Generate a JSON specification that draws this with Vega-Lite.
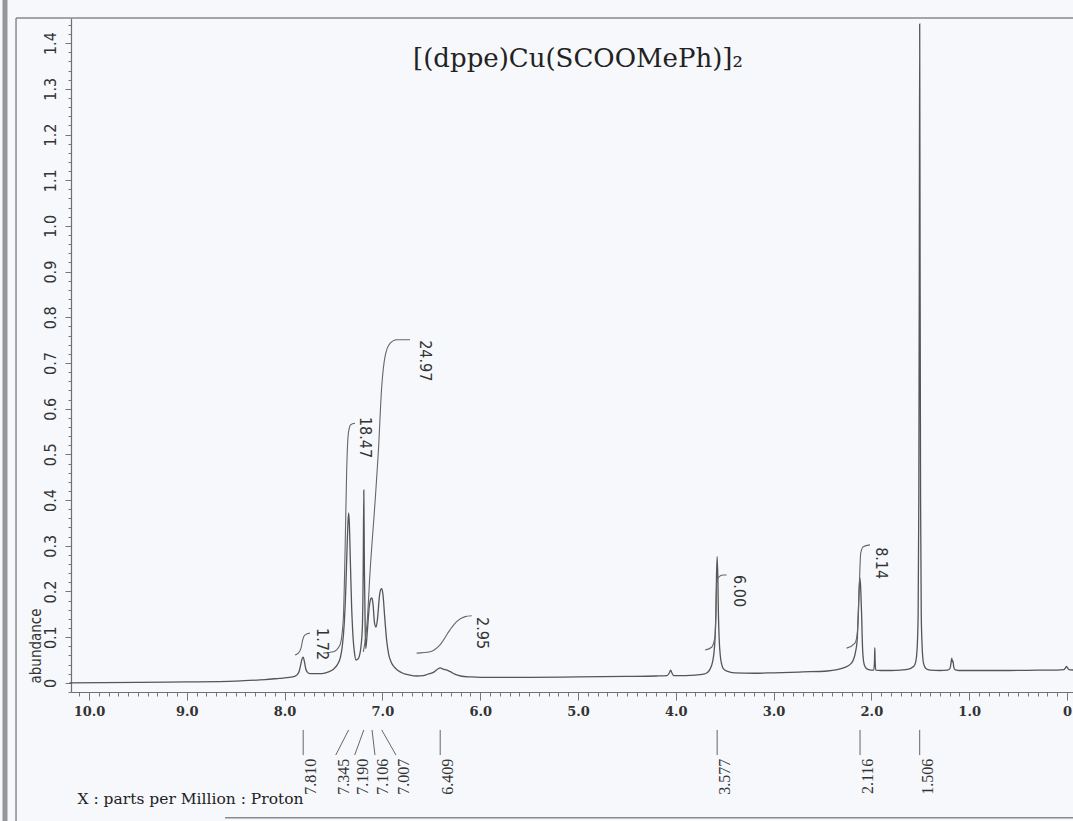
{
  "$schema": "https://vega.github.io/schema/vega-lite/v6.json",
  "autosize": {"type": "none"},
  "width": 1004,
  "height": 674,
  "padding": {"left": 71, "top": 18, "right": 0, "bottom": 129},
  "background": "#f6f8fb",
  "config": {"view": {"stroke": null}},
  "datasets": {
    "spectrum": [
      {"ppm": 10.2, "abundance": 0.0}, {"ppm": 9.5, "abundance": 0.001}, {"ppm": 9.0, "abundance": 0.002},
      {"ppm": 8.5, "abundance": 0.004}, {"ppm": 8.2, "abundance": 0.007}, {"ppm": 8.05, "abundance": 0.01},
      {"ppm": 7.95, "abundance": 0.012}, {"ppm": 7.9, "abundance": 0.014}, {"ppm": 7.87, "abundance": 0.018},
      {"ppm": 7.85, "abundance": 0.026}, {"ppm": 7.835, "abundance": 0.04}, {"ppm": 7.822, "abundance": 0.052},
      {"ppm": 7.81, "abundance": 0.056}, {"ppm": 7.798, "abundance": 0.047}, {"ppm": 7.785, "abundance": 0.032},
      {"ppm": 7.77, "abundance": 0.024}, {"ppm": 7.74, "abundance": 0.02}, {"ppm": 7.7, "abundance": 0.02},
      {"ppm": 7.65, "abundance": 0.02}, {"ppm": 7.6, "abundance": 0.021}, {"ppm": 7.55, "abundance": 0.024},
      {"ppm": 7.5, "abundance": 0.03}, {"ppm": 7.46, "abundance": 0.04}, {"ppm": 7.43, "abundance": 0.055},
      {"ppm": 7.41, "abundance": 0.08}, {"ppm": 7.39, "abundance": 0.13}, {"ppm": 7.375, "abundance": 0.2},
      {"ppm": 7.362, "abundance": 0.29}, {"ppm": 7.352, "abundance": 0.35}, {"ppm": 7.345, "abundance": 0.372},
      {"ppm": 7.338, "abundance": 0.35}, {"ppm": 7.328, "abundance": 0.27}, {"ppm": 7.315, "abundance": 0.17},
      {"ppm": 7.3, "abundance": 0.1}, {"ppm": 7.285, "abundance": 0.065}, {"ppm": 7.27, "abundance": 0.05},
      {"ppm": 7.25, "abundance": 0.052}, {"ppm": 7.225, "abundance": 0.07}, {"ppm": 7.205, "abundance": 0.12},
      {"ppm": 7.196, "abundance": 0.25}, {"ppm": 7.19, "abundance": 0.422}, {"ppm": 7.184, "abundance": 0.25},
      {"ppm": 7.176, "abundance": 0.12}, {"ppm": 7.17, "abundance": 0.075}, {"ppm": 7.155, "abundance": 0.11},
      {"ppm": 7.135, "abundance": 0.165}, {"ppm": 7.115, "abundance": 0.185}, {"ppm": 7.106, "abundance": 0.186},
      {"ppm": 7.095, "abundance": 0.17}, {"ppm": 7.08, "abundance": 0.13}, {"ppm": 7.065, "abundance": 0.122},
      {"ppm": 7.05, "abundance": 0.14}, {"ppm": 7.03, "abundance": 0.19}, {"ppm": 7.015, "abundance": 0.205},
      {"ppm": 7.007, "abundance": 0.206}, {"ppm": 6.995, "abundance": 0.195}, {"ppm": 6.975, "abundance": 0.14},
      {"ppm": 6.955, "abundance": 0.09}, {"ppm": 6.935, "abundance": 0.062}, {"ppm": 6.91, "abundance": 0.045},
      {"ppm": 6.88, "abundance": 0.035}, {"ppm": 6.84, "abundance": 0.027}, {"ppm": 6.79, "abundance": 0.021},
      {"ppm": 6.72, "abundance": 0.017}, {"ppm": 6.65, "abundance": 0.015}, {"ppm": 6.58, "abundance": 0.016},
      {"ppm": 6.52, "abundance": 0.02}, {"ppm": 6.47, "abundance": 0.024}, {"ppm": 6.43, "abundance": 0.031},
      {"ppm": 6.409, "abundance": 0.033}, {"ppm": 6.38, "abundance": 0.03}, {"ppm": 6.34, "abundance": 0.028},
      {"ppm": 6.3, "abundance": 0.024}, {"ppm": 6.26, "abundance": 0.019}, {"ppm": 6.2, "abundance": 0.015},
      {"ppm": 6.1, "abundance": 0.013}, {"ppm": 6.0, "abundance": 0.012}, {"ppm": 5.5, "abundance": 0.012},
      {"ppm": 5.0, "abundance": 0.013}, {"ppm": 4.5, "abundance": 0.014}, {"ppm": 4.2, "abundance": 0.015},
      {"ppm": 4.09, "abundance": 0.016}, {"ppm": 4.065, "abundance": 0.022}, {"ppm": 4.052, "abundance": 0.028},
      {"ppm": 4.04, "abundance": 0.022}, {"ppm": 4.02, "abundance": 0.016}, {"ppm": 3.9, "abundance": 0.016},
      {"ppm": 3.8, "abundance": 0.017}, {"ppm": 3.72, "abundance": 0.019}, {"ppm": 3.68, "abundance": 0.022},
      {"ppm": 3.65, "abundance": 0.03}, {"ppm": 3.625, "abundance": 0.045}, {"ppm": 3.61, "abundance": 0.065},
      {"ppm": 3.598, "abundance": 0.1}, {"ppm": 3.59, "abundance": 0.15}, {"ppm": 3.584, "abundance": 0.23},
      {"ppm": 3.577, "abundance": 0.276}, {"ppm": 3.57, "abundance": 0.23}, {"ppm": 3.564, "abundance": 0.15},
      {"ppm": 3.556, "abundance": 0.095}, {"ppm": 3.545, "abundance": 0.06}, {"ppm": 3.53, "abundance": 0.04},
      {"ppm": 3.51, "abundance": 0.03}, {"ppm": 3.47, "abundance": 0.025}, {"ppm": 3.4, "abundance": 0.022},
      {"ppm": 3.2, "abundance": 0.021}, {"ppm": 3.0, "abundance": 0.022}, {"ppm": 2.7, "abundance": 0.024},
      {"ppm": 2.45, "abundance": 0.026}, {"ppm": 2.35, "abundance": 0.029}, {"ppm": 2.27, "abundance": 0.034},
      {"ppm": 2.22, "abundance": 0.04}, {"ppm": 2.185, "abundance": 0.05}, {"ppm": 2.16, "abundance": 0.07},
      {"ppm": 2.145, "abundance": 0.095}, {"ppm": 2.132, "abundance": 0.16}, {"ppm": 2.124, "abundance": 0.21},
      {"ppm": 2.116, "abundance": 0.229}, {"ppm": 2.108, "abundance": 0.2}, {"ppm": 2.1, "abundance": 0.15},
      {"ppm": 2.09, "abundance": 0.075}, {"ppm": 2.078, "abundance": 0.045}, {"ppm": 2.065, "abundance": 0.036},
      {"ppm": 2.04, "abundance": 0.03}, {"ppm": 2.0, "abundance": 0.028}, {"ppm": 1.975, "abundance": 0.028},
      {"ppm": 1.968, "abundance": 0.05}, {"ppm": 1.965, "abundance": 0.077}, {"ppm": 1.962, "abundance": 0.05},
      {"ppm": 1.955, "abundance": 0.028}, {"ppm": 1.9, "abundance": 0.027}, {"ppm": 1.8, "abundance": 0.027},
      {"ppm": 1.7, "abundance": 0.028}, {"ppm": 1.62, "abundance": 0.03}, {"ppm": 1.58, "abundance": 0.034},
      {"ppm": 1.555, "abundance": 0.04}, {"ppm": 1.54, "abundance": 0.055}, {"ppm": 1.53, "abundance": 0.085},
      {"ppm": 1.522, "abundance": 0.15}, {"ppm": 1.515, "abundance": 0.4}, {"ppm": 1.51, "abundance": 0.9},
      {"ppm": 1.506, "abundance": 1.442}, {"ppm": 1.502, "abundance": 0.9}, {"ppm": 1.497, "abundance": 0.4},
      {"ppm": 1.49, "abundance": 0.15}, {"ppm": 1.482, "abundance": 0.085}, {"ppm": 1.472, "abundance": 0.05},
      {"ppm": 1.46, "abundance": 0.038}, {"ppm": 1.44, "abundance": 0.031}, {"ppm": 1.4, "abundance": 0.028},
      {"ppm": 1.3, "abundance": 0.027}, {"ppm": 1.22, "abundance": 0.028}, {"ppm": 1.195, "abundance": 0.032},
      {"ppm": 1.185, "abundance": 0.045}, {"ppm": 1.178, "abundance": 0.054}, {"ppm": 1.172, "abundance": 0.046},
      {"ppm": 1.166, "abundance": 0.048}, {"ppm": 1.158, "abundance": 0.035}, {"ppm": 1.145, "abundance": 0.029},
      {"ppm": 1.1, "abundance": 0.027}, {"ppm": 0.9, "abundance": 0.027}, {"ppm": 0.6, "abundance": 0.027},
      {"ppm": 0.3, "abundance": 0.028}, {"ppm": 0.1, "abundance": 0.028}, {"ppm": 0.03, "abundance": 0.029},
      {"ppm": 0.015, "abundance": 0.033}, {"ppm": 0.005, "abundance": 0.036}, {"ppm": -0.005, "abundance": 0.033},
      {"ppm": -0.02, "abundance": 0.029}, {"ppm": -0.08, "abundance": 0.028}
    ],
    "integrals": [
      {"integral": "1.72", "ppm": 7.894, "abundance": 0.061}, {"integral": "1.72", "ppm": 7.86, "abundance": 0.065},
      {"integral": "1.72", "ppm": 7.832, "abundance": 0.076}, {"integral": "1.72", "ppm": 7.815, "abundance": 0.094},
      {"integral": "1.72", "ppm": 7.791, "abundance": 0.105}, {"integral": "1.72", "ppm": 7.74, "abundance": 0.109},
      {"integral": "18.47", "ppm": 7.604, "abundance": 0.065}, {"integral": "18.47", "ppm": 7.502, "abundance": 0.068},
      {"integral": "18.47", "ppm": 7.434, "abundance": 0.083}, {"integral": "18.47", "ppm": 7.4, "abundance": 0.138},
      {"integral": "18.47", "ppm": 7.382, "abundance": 0.284}, {"integral": "18.47", "ppm": 7.365, "abundance": 0.466},
      {"integral": "18.47", "ppm": 7.348, "abundance": 0.546}, {"integral": "18.47", "ppm": 7.324, "abundance": 0.565},
      {"integral": "18.47", "ppm": 7.28, "abundance": 0.568},
      {"integral": "24.97", "ppm": 7.195, "abundance": 0.068}, {"integral": "24.97", "ppm": 7.154, "abundance": 0.138},
      {"integral": "24.97", "ppm": 7.127, "abundance": 0.24}, {"integral": "24.97", "ppm": 7.076, "abundance": 0.393},
      {"integral": "24.97", "ppm": 7.042, "abundance": 0.503}, {"integral": "24.97", "ppm": 7.007, "abundance": 0.648},
      {"integral": "24.97", "ppm": 6.973, "abundance": 0.714}, {"integral": "24.97", "ppm": 6.922, "abundance": 0.743},
      {"integral": "24.97", "ppm": 6.854, "abundance": 0.751}, {"integral": "24.97", "ppm": 6.718, "abundance": 0.751},
      {"integral": "2.95", "ppm": 6.65, "abundance": 0.065}, {"integral": "2.95", "ppm": 6.513, "abundance": 0.068},
      {"integral": "2.95", "ppm": 6.411, "abundance": 0.083}, {"integral": "2.95", "ppm": 6.309, "abundance": 0.116},
      {"integral": "2.95", "ppm": 6.241, "abundance": 0.134}, {"integral": "2.95", "ppm": 6.155, "abundance": 0.145},
      {"integral": "2.95", "ppm": 6.087, "abundance": 0.147},
      {"integral": "6.00", "ppm": 3.701, "abundance": 0.072}, {"integral": "6.00", "ppm": 3.633, "abundance": 0.078},
      {"integral": "6.00", "ppm": 3.599, "abundance": 0.101}, {"integral": "6.00", "ppm": 3.589, "abundance": 0.16},
      {"integral": "6.00", "ppm": 3.582, "abundance": 0.218}, {"integral": "6.00", "ppm": 3.565, "abundance": 0.231},
      {"integral": "6.00", "ppm": 3.514, "abundance": 0.236}, {"integral": "6.00", "ppm": 3.48, "abundance": 0.236},
      {"integral": "8.14", "ppm": 2.253, "abundance": 0.076}, {"integral": "8.14", "ppm": 2.168, "abundance": 0.087},
      {"integral": "8.14", "ppm": 2.144, "abundance": 0.109}, {"integral": "8.14", "ppm": 2.124, "abundance": 0.211},
      {"integral": "8.14", "ppm": 2.109, "abundance": 0.284}, {"integral": "8.14", "ppm": 2.083, "abundance": 0.298},
      {"integral": "8.14", "ppm": 2.014, "abundance": 0.302}
    ],
    "integralLabels": [
      {"integral": "1.72", "ppm": 7.618, "abundance": 0.12},
      {"integral": "18.47", "ppm": 7.178, "abundance": 0.582},
      {"integral": "24.97", "ppm": 6.564, "abundance": 0.75},
      {"integral": "2.95", "ppm": 5.981, "abundance": 0.144},
      {"integral": "6.00", "ppm": 3.354, "abundance": 0.236},
      {"integral": "8.14", "ppm": 1.902, "abundance": 0.297}
    ],
    "peaks": [
      {"shift": "7.810", "ppm": 7.81, "labelAt": 7.81},
      {"shift": "7.345", "ppm": 7.345, "labelAt": 7.477},
      {"shift": "7.190", "ppm": 7.19, "labelAt": 7.283},
      {"shift": "7.106", "ppm": 7.106, "labelAt": 7.076},
      {"shift": "7.007", "ppm": 7.007, "labelAt": 6.861},
      {"shift": "6.409", "ppm": 6.409, "labelAt": 6.409},
      {"shift": "3.577", "ppm": 3.577, "labelAt": 3.577},
      {"shift": "2.116", "ppm": 2.116, "labelAt": 2.116},
      {"shift": "1.506", "ppm": 1.506, "labelAt": 1.506}
    ]
  },
  "layer": [
    {
      "description": "1H spectrum trace",
      "data": {"name": "spectrum"},
      "mark": {"type": "line", "color": "#555555", "strokeWidth": 1.3, "interpolate": "monotone", "clip": false},
      "encoding": {
        "x": {
          "field": "ppm", "type": "quantitative",
          "scale": {"domain": [-0.082, 10.184], "reverse": true, "nice": false, "zero": false},
          "axis": {
            "title": "X : parts per Million : Proton",
            "tickCount": 103,
            "labelExpr": "abs(datum.value - round(datum.value)) < 0.001 ? (abs(datum.value) < 0.001 ? '0' : format(datum.value, '.1f')) : ''",
            "tickSize": {"condition": {"test": "abs(datum.value - round(datum.value)) < 0.001", "value": 8}, "value": 4},
            "labelFont": "DejaVu Serif", "labelFontWeight": "bold", "labelFontSize": 13, "labelColor": "#333333",
            "labelPadding": 5, "labelOverlap": false, "labelFlush": false,
            "domainColor": "#6f6f6f", "domainWidth": 1.2, "tickColor": "#777777", "tickWidth": 1, "grid": false,
            "titleFont": "DejaVu Serif", "titleFontSize": 15.5, "titleFontWeight": "normal", "titleColor": "#222222",
            "titleAnchor": "start", "titleAlign": "left", "titleBaseline": "alphabetic", "titleX": 6, "titleY": 111
          }
        },
        "y": {
          "field": "abundance", "type": "quantitative",
          "scale": {"domain": [-0.02, 1.455], "nice": false, "zero": false},
          "axis": {
            "title": "abundance",
            "tickCount": 74,
            "labelExpr": "abs(datum.value * 10 - round(datum.value * 10)) < 0.01 ? (abs(datum.value) < 0.001 ? '0' : format(datum.value, '.1f')) : ''",
            "tickSize": {"condition": {"test": "abs(datum.value * 10 - round(datum.value * 10)) < 0.01", "value": 6}, "value": 3},
            "labelAngle": -90, "labelAlign": "center", "labelBaseline": "bottom", "labelPadding": 7,
            "labelFont": "Liberation Sans Narrow, DejaVu Sans Condensed, sans-serif", "labelFontSize": 16, "labelColor": "#333333",
            "labelOverlap": false, "labelFlush": false,
            "domainColor": "#6f6f6f", "domainWidth": 1.2, "tickColor": "#777777", "tickWidth": 1, "grid": false,
            "titleFont": "Liberation Sans Narrow, DejaVu Sans Condensed, sans-serif", "titleFontSize": 15, "titleFontWeight": "normal",
            "titleColor": "#333333", "titleAngle": -90, "titleAlign": "left", "titleBaseline": "middle", "titleX": -36, "titleY": 665
          }
        }
      }
    },
    {
      "description": "scanner edge shadow",
      "data": {"values": [{}]},
      "mark": {"type": "rule", "color": "#858585", "strokeWidth": 5, "opacity": 0.85, "clip": false},
      "encoding": {
        "x": {"datum": 10.859, "type": "quantitative"},
        "y": {"datum": 1.52, "type": "quantitative"},
        "y2": {"datum": -0.35}
      }
    },
    {
      "description": "page frame, left",
      "data": {"values": [{}]},
      "mark": {"type": "rule", "color": "#8a8a8a", "strokeWidth": 1.5, "clip": false},
      "encoding": {
        "x": {"datum": 10.746, "type": "quantitative"},
        "y": {"datum": 1.455, "type": "quantitative"},
        "y2": {"datum": -0.35}
      }
    },
    {
      "description": "page frame, top",
      "data": {"values": [{}]},
      "mark": {"type": "rule", "color": "#8a8a8a", "strokeWidth": 1.5, "clip": false},
      "encoding": {
        "x": {"datum": 10.746, "type": "quantitative"},
        "x2": {"datum": -0.2},
        "y": {"datum": 1.455, "type": "quantitative"}
      }
    },
    {
      "description": "page frame, bottom",
      "data": {"values": [{}]},
      "mark": {"type": "rule", "color": "#8a8a8a", "strokeWidth": 1.5, "clip": false},
      "encoding": {
        "x": {"datum": 8.609, "type": "quantitative"},
        "x2": {"datum": -0.2},
        "y": {"datum": -0.295, "type": "quantitative"}
      }
    },
    {
      "description": "integral curves",
      "data": {"name": "integrals"},
      "mark": {"type": "line", "color": "#666666", "strokeWidth": 1.1, "interpolate": "monotone", "clip": false},
      "encoding": {
        "x": {"field": "ppm", "type": "quantitative"},
        "y": {"field": "abundance", "type": "quantitative"},
        "detail": {"field": "integral"}
      }
    },
    {
      "data": {"name": "integralLabels"},
      "mark": {"type": "text", "angle": 90, "align": "left", "baseline": "middle", "font": "Liberation Sans Narrow, DejaVu Sans Condensed, sans-serif", "fontSize": 16, "color": "#333333", "clip": false},
      "encoding": {
        "x": {"field": "ppm", "type": "quantitative"},
        "y": {"field": "abundance", "type": "quantitative"},
        "text": {"field": "integral"}
      }
    },
    {
      "description": "peak pick markers below the axis",
      "data": {"name": "peaks"},
      "mark": {"type": "rule", "color": "#666666", "strokeWidth": 1, "clip": false},
      "encoding": {
        "x": {"field": "ppm", "type": "quantitative"},
        "x2": {"field": "labelAt"},
        "y": {"datum": -0.103, "type": "quantitative"},
        "y2": {"datum": -0.158}
      }
    },
    {
      "data": {"name": "peaks"},
      "mark": {"type": "text", "angle": -90, "align": "right", "baseline": "top", "font": "Liberation Serif", "fontSize": 16, "color": "#333333", "clip": false},
      "encoding": {
        "x": {"field": "labelAt", "type": "quantitative"},
        "y": {"datum": -0.166, "type": "quantitative"},
        "text": {"field": "shift"}
      }
    },
    {
      "description": "compound name",
      "data": {"values": [{}]},
      "mark": {"type": "text", "align": "center", "baseline": "alphabetic", "font": "DejaVu Serif", "fontSize": 26, "color": "#222222", "clip": false},
      "encoding": {
        "x": {"datum": 5.0, "type": "quantitative"},
        "y": {"datum": 1.348, "type": "quantitative"},
        "text": {"value": "[(dppe)Cu(SCOOMePh)]₂"}
      }
    }
  ]
}
